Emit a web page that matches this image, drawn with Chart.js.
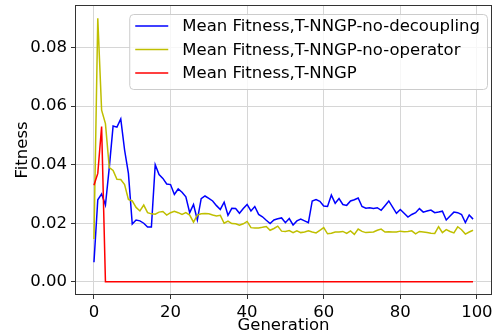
<!DOCTYPE html>
<html>
<head>
<meta charset="utf-8">
<script src="https://cdn.jsdelivr.net/npm/chart.js@4"></script>
<style>
  html, body { margin: 0; padding: 0; background: #fff; }
  #wrap { width: 497px; height: 335px; }
</style>
</head>
<body>
<div id="wrap"><canvas id="mainChart" width="497" height="335"></canvas></div>
<script>
const seriesLabels = [
    'Mean Fitness,T-NNGP-no-decoupling',
    'Mean Fitness,T-NNGP-no-operator',
    'Mean Fitness,T-NNGP'
];
const seriesColors = ['#0000ff', '#bfbf00', '#ff0000'];

const noDecoupling = [
    0.0067, 0.0280, 0.0300, 0.0262, 0.0390, 0.0532, 0.0528, 0.0556, 0.0450, 0.0370,
    0.0197, 0.0211, 0.0208, 0.0200, 0.0187, 0.0187, 0.0400, 0.0366, 0.0353, 0.0334,
    0.0332, 0.0298, 0.0317, 0.0306, 0.0290, 0.0236, 0.0264, 0.0211, 0.0284, 0.0293,
    0.0285, 0.0276, 0.0260, 0.0247, 0.0272, 0.0227, 0.0251, 0.0250, 0.0234, 0.0250,
    0.0264, 0.0242, 0.0257, 0.0230, 0.0222, 0.0210, 0.0199, 0.0211, 0.0215, 0.0218,
    0.0202, 0.0216, 0.0194, 0.0208, 0.0214, 0.0208, 0.0202, 0.0276, 0.0281, 0.0275,
    0.0259, 0.0257, 0.0296, 0.0268, 0.0284, 0.0264, 0.0261, 0.0276, 0.0280, 0.0286,
    0.0257, 0.0251, 0.0253, 0.0250, 0.0253, 0.0244, 0.0260, 0.0276, 0.0255, 0.0234,
    0.0247, 0.0234, 0.0221, 0.0230, 0.0236, 0.0250, 0.0238, 0.0242, 0.0245, 0.0236,
    0.0238, 0.0241, 0.0211, 0.0225, 0.0238, 0.0236, 0.0230, 0.0202, 0.0228, 0.0214
];
const noOperator = [
    0.0146, 0.0900, 0.0586, 0.0540, 0.0390, 0.0380, 0.0350, 0.0349, 0.0332, 0.0281,
    0.0276, 0.0254, 0.0242, 0.0262, 0.0236, 0.0232, 0.0231, 0.0238, 0.0240, 0.0228,
    0.0236, 0.0241, 0.0236, 0.0230, 0.0236, 0.0228, 0.0204, 0.0228, 0.0232, 0.0233,
    0.0232, 0.0228, 0.0225, 0.0227, 0.0200, 0.0207, 0.0199, 0.0198, 0.0193, 0.0198,
    0.0206, 0.0185, 0.0184, 0.0184, 0.0186, 0.0189, 0.0176, 0.0182, 0.0190, 0.0173,
    0.0172, 0.0175, 0.0168, 0.0174, 0.0168, 0.0170, 0.0174, 0.0170, 0.0167, 0.0176,
    0.0185, 0.0164, 0.0166, 0.0170, 0.0170, 0.0172, 0.0165, 0.0174, 0.0162, 0.0180,
    0.0172, 0.0168, 0.0169, 0.0170, 0.0176, 0.0180, 0.0170, 0.0171, 0.0170, 0.0170,
    0.0173, 0.0171, 0.0172, 0.0174, 0.0164, 0.0172, 0.0170, 0.0168, 0.0166, 0.0165,
    0.0188, 0.0168, 0.0178, 0.0172, 0.0167, 0.0188, 0.0178, 0.0163, 0.0170, 0.0176
];
const tnngp = [
    0.0330, 0.0370, 0.0530, 0, 0, 0, 0, 0, 0, 0,
    0, 0, 0, 0, 0, 0, 0, 0, 0, 0,
    0, 0, 0, 0, 0, 0, 0, 0, 0, 0,
    0, 0, 0, 0, 0, 0, 0, 0, 0, 0,
    0, 0, 0, 0, 0, 0, 0, 0, 0, 0,
    0, 0, 0, 0, 0, 0, 0, 0, 0, 0,
    0, 0, 0, 0, 0, 0, 0, 0, 0, 0,
    0, 0, 0, 0, 0, 0, 0, 0, 0, 0,
    0, 0, 0, 0, 0, 0, 0, 0, 0, 0,
    0, 0, 0, 0, 0, 0, 0, 0, 0, 0
];
const xTicks = [0, 20, 40, 60, 80, 100];
const yTicks = [0, 0.02, 0.04, 0.06, 0.08];

const FONT = 'DejaVu Sans';

function toPoints(values) {
    return values.map((v, i) => ({x: i, y: v}));
}

// axes frame like matplotlib spines
const framePlugin = {
    id: 'frame',
    afterDatasetsDraw(chart) {
        const a = chart.chartArea;
        const ctx = chart.ctx;
        ctx.save();
        ctx.strokeStyle = '#333';
        ctx.lineWidth = 1;
        ctx.strokeRect(a.left + 0.5, a.top + 0.5, a.right - a.left - 1, a.bottom - a.top - 1);
        ctx.restore();
    }
};

// legend box in the upper right
const legendPlugin = {
    id: 'boxLegend',
    afterDraw(chart) {
        const a = chart.chartArea;
        const ctx = chart.ctx;
        ctx.save();
        ctx.font = '16.5px "' + FONT + '"';
        const sets = chart.data.datasets;
        let maxW = 0;
        sets.forEach((ds) => { maxW = Math.max(maxW, ctx.measureText(ds.label).width); });
        const boxW = 53 + maxW + 7;
        const boxH = 75;
        const x0 = a.right - 5 - boxW;
        const y0 = a.top + 9;
        ctx.beginPath();
        ctx.roundRect(x0 + 0.5, y0 + 0.5, boxW, boxH, 4);
        ctx.fillStyle = 'rgba(255,255,255,0.8)';
        ctx.fill();
        ctx.strokeStyle = '#cccccc';
        ctx.lineWidth = 1;
        ctx.stroke();
        sets.forEach((ds, i) => {
            const cy = y0 + 12 + i * 23.5;
            ctx.beginPath();
            ctx.moveTo(x0 + 6, cy);
            ctx.lineTo(x0 + 39, cy);
            ctx.strokeStyle = ds.borderColor;
            ctx.lineWidth = 1.5;
            ctx.stroke();
            ctx.fillStyle = '#000';
            ctx.textBaseline = 'middle';
            ctx.fillText(ds.label, x0 + 53, cy + 1);
        });
        ctx.restore();
    }
};

function setupCanvas() {
    const ctx = document.getElementById('mainChart').getContext('2d');
    const data = {
        datasets: [
            {label: seriesLabels[0], data: toPoints(noDecoupling), borderColor: seriesColors[0], order: 3},
            {label: seriesLabels[1], data: toPoints(noOperator), borderColor: seriesColors[1], order: 2},
            {label: seriesLabels[2], data: toPoints(tnngp), borderColor: seriesColors[2], order: 1}
        ]
    };
    const tickFont = {family: FONT, size: 16.5};
    const config = {
        type: 'line',
        data: data,
        options: {
            responsive: false,
            animation: false,
            events: [],
            layout: {padding: {left: 0, right: 5, top: 5, bottom: 0}},
            elements: {
                line: {borderWidth: 1.5, tension: 0, fill: false},
                point: {radius: 0}
            },
            scales: {
                x: {
                    type: 'linear',
                    min: -4.95,
                    max: 103.95,
                    afterBuildTicks: (s) => { s.ticks = xTicks.map((v) => ({value: v})); },
                    afterFit: (s) => { s.height = 40; s.paddingLeft = 0; s.paddingRight = 0; },
                    grid: {color: '#d6d6d6', lineWidth: 1, tickColor: '#333', tickLength: 4},
                    border: {display: false},
                    ticks: {font: tickFont, color: '#000', padding: 4, maxRotation: 0},
                    title: {display: true, text: 'Generation', font: tickFont, color: '#000', padding: {top: 0, bottom: -1}}
                },
                y: {
                    min: -0.0045,
                    max: 0.0945,
                    afterBuildTicks: (s) => { s.ticks = yTicks.map((v) => ({value: v})); },
                    afterFit: (s) => { s.width = 75; s.paddingTop = 0; s.paddingBottom = 0; },
                    grid: {color: '#d6d6d6', lineWidth: 1, tickColor: '#333', tickLength: 4},
                    border: {display: false},
                    ticks: {font: tickFont, color: '#000', padding: 4, callback: (v) => v.toFixed(2)},
                    title: {display: true, text: 'Fitness', font: tickFont, color: '#000', padding: {top: 13, bottom: 0}}
                }
            },
            plugins: {
                legend: {display: false},
                tooltip: {enabled: false}
            }
        },
        plugins: [framePlugin, legendPlugin]
    };
    return new Chart(ctx, config);
}

const mainChart = setupCanvas();
</script>
</body>
</html>
